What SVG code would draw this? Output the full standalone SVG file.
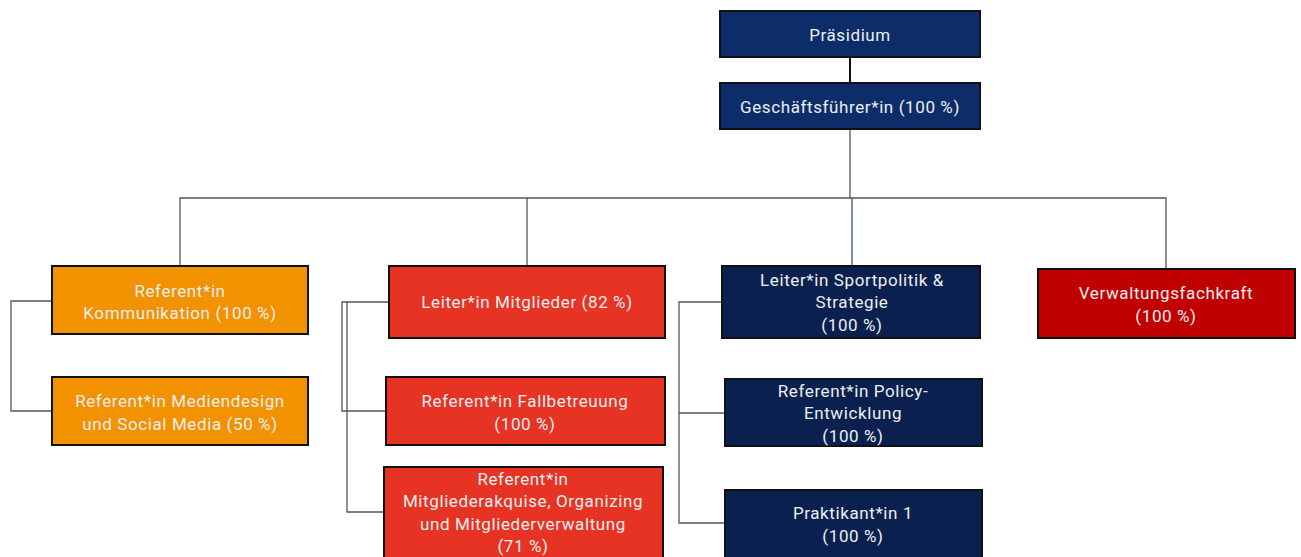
<svg xmlns="http://www.w3.org/2000/svg" width="1301" height="557" viewBox="0 0 1301 557">
<style>
.box{stroke:#111;stroke-width:2}
.t{font-family:Roboto,"Liberation Sans",sans-serif;font-size:17px;letter-spacing:0.6px;fill:#eeeeee;text-anchor:middle}
.c{fill:none;stroke:#555;stroke-width:1.3}
.k{fill:none;stroke:#111;stroke-width:2}
</style>
<rect width="1301" height="557" fill="#fff"/>
<g id="connectors">
<path class="k" d="M850 57V83"/>
<path class="c" d="M850 129V198M180 266V198H850M527 198V266M850 198H1166V268"/>
<path class="c" d="M852 198V266" style="stroke:#3a4f8a"/>
<path class="c" d="M52 301H11V411H52"/>
<path class="c" d="M389 302H342V411H386M347 302V512H384"/>
<path class="c" d="M722 302H679V523H725M679 413H725"/>
</g>
<g id="praesidium"><rect class="box" x="720" y="11" width="260" height="46" fill="#0c2d69"/><text class="t" x="850" y="41">Präsidium</text></g>
<g id="gf"><rect class="box" x="720" y="83" width="260" height="46" fill="#0c2d69"/><text class="t" x="850" y="113">Geschäftsführer*in (100 %)</text></g>
<g id="kommunikation"><rect class="box" x="52" y="266" width="256" height="68" fill="#f39200"/><text class="t" x="180" y="297">Referent*in</text><text class="t" x="180" y="319">Kommunikation (100 %)</text></g>
<g id="mediendesign"><rect class="box" x="52" y="377" width="256" height="68" fill="#f39200"/><text class="t" x="180" y="407">Referent*in Mediendesign</text><text class="t" x="180" y="430">und Social Media (50 %)</text></g>
<g id="leiter-mitglieder"><rect class="box" x="389" y="266" width="276" height="72" fill="#e63323"/><text class="t" x="527" y="308">Leiter*in Mitglieder (82 %)</text></g>
<g id="fallbetreuung"><rect class="box" x="386" y="377" width="279" height="68" fill="#e63323"/><text class="t" x="525" y="407">Referent*in Fallbetreuung</text><text class="t" x="525" y="430">(100 %)</text></g>
<g id="akquise"><rect class="box" x="384" y="467" width="279" height="92" fill="#e63323"/><text class="t" x="523" y="485">Referent*in</text><text class="t" x="523" y="507">Mitgliederakquise, Organizing</text><text class="t" x="523" y="530">und Mitgliederverwaltung</text><text class="t" x="523" y="552">(71 %)</text></g>
<g id="sportpolitik"><rect class="box" x="722" y="266" width="258" height="72" fill="#0a2150"/><text class="t" x="852" y="286">Leiter*in Sportpolitik &amp;</text><text class="t" x="852" y="308">Strategie</text><text class="t" x="852" y="331">(100 %)</text></g>
<g id="policy"><rect class="box" x="725" y="379" width="257" height="67" fill="#0a2150"/><text class="t" x="853" y="397">Referent*in Policy-</text><text class="t" x="853" y="419">Entwicklung</text><text class="t" x="853" y="442">(100 %)</text></g>
<g id="praktikant"><rect class="box" x="725" y="490" width="257" height="69" fill="#0a2150"/><text class="t" x="853" y="519">Praktikant*in 1</text><text class="t" x="853" y="542">(100 %)</text></g>
<g id="verwaltung"><rect class="box" x="1038" y="269" width="257" height="69" fill="#c00000"/><text class="t" x="1166" y="299">Verwaltungsfachkraft</text><text class="t" x="1166" y="322">(100 %)</text></g>
</svg>
